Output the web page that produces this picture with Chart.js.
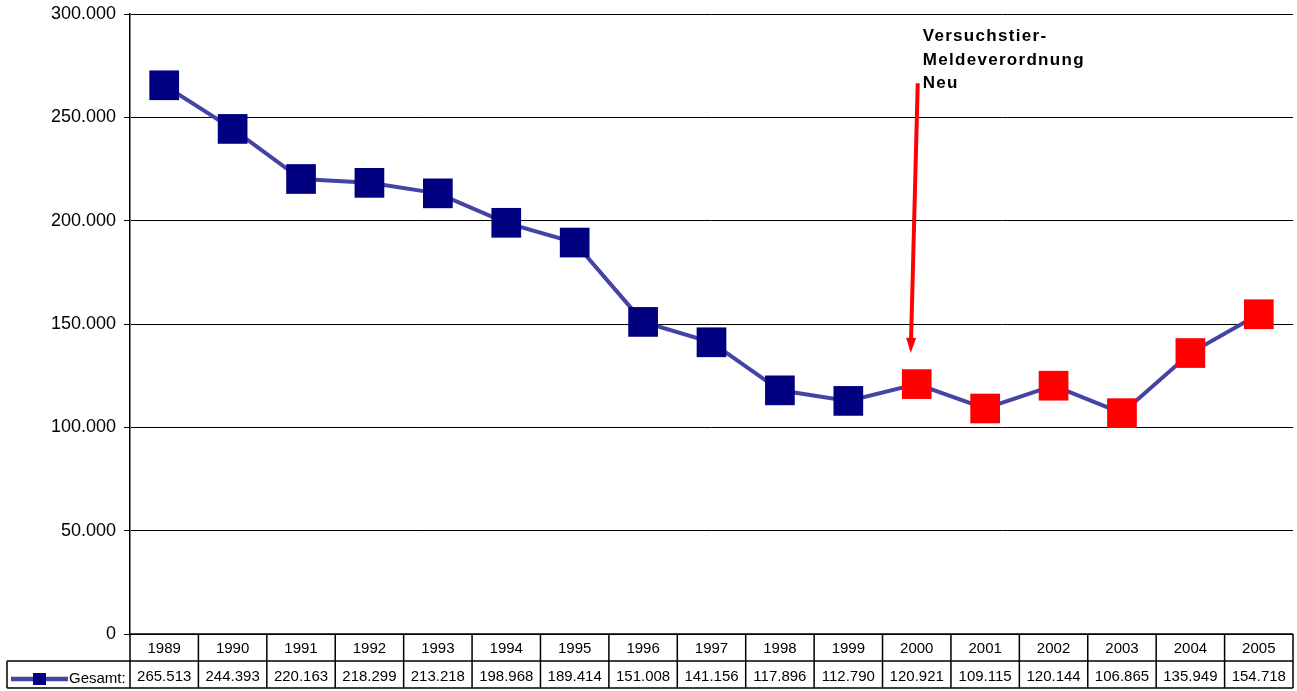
<!DOCTYPE html>
<html>
<head>
<meta charset="utf-8">
<script src="https://cdn.jsdelivr.net/npm/chart.js@4"></script>
<style>
  html, body { margin: 0; padding: 0; background: #fff; }
  canvas { display: block; }
</style>
</head>
<body>
<canvas id="chart" width="1297" height="691"></canvas>
<script>
// data
const years = ["1989", "1990", "1991", "1992", "1993", "1994", "1995", "1996", "1997",
               "1998", "1999", "2000", "2001", "2002", "2003", "2004", "2005"];
const gesamt = [265513, 244393, 220163, 218299, 213218, 198968, 189414, 151008, 141156,
                117896, 112790, 120921, 109115, 120144, 106865, 135949, 154718];
const yTicks = [0, 50000, 100000, 150000, 200000, 250000, 300000];
const seriesName = "Gesamt:";
const noteLines = ["Versuchstier-", "Meldeverordnung", "Neu"];
const noteYear = "2000";

const FONT = "'Liberation Sans', Arial, sans-serif";
const NAVY = "#000080";
const RED = "#ff0000";
const LINE = "#4444a4";

function fmt(v) {
    return String(v).replace(/\B(?=(\d{3})+(?!\d))/g, ".");
}

const pointColors = years.map(y => (+y >= +noteYear ? RED : NAVY));

// data table under the plot + legend key
const tablePlugin = {
    id: "dataTable",
    afterDraw(chart) {
        const ctx = chart.ctx;
        const area = chart.chartArea;
        const xs = chart.scales.x;
        const w = (area.right - area.left) / years.length;
        const rowH = 27;
        const top1 = area.bottom, top2 = area.bottom + rowH, bot = area.bottom + 2 * rowH;
        const legendLeft = 7;

        ctx.save();
        ctx.strokeStyle = "#000";
        ctx.lineWidth = 1.5;
        ctx.beginPath();
        ctx.moveTo(area.left, top1); ctx.lineTo(area.right, top1);
        ctx.moveTo(legendLeft, top2); ctx.lineTo(area.right, top2);
        ctx.moveTo(legendLeft, bot); ctx.lineTo(area.right, bot);
        ctx.moveTo(legendLeft, top2); ctx.lineTo(legendLeft, bot);
        for (let i = 0; i <= years.length; i++) {
            const x = area.left + i * w;
            ctx.moveTo(x, top1); ctx.lineTo(x, bot);
        }
        ctx.stroke();

        ctx.fillStyle = "#000";
        ctx.font = "15px " + FONT;
        ctx.textAlign = "center";
        ctx.textBaseline = "middle";
        years.forEach((y, i) => {
            const cx = xs.getPixelForValue(i);
            ctx.fillText(y, cx, top1 + rowH / 2 + 1.5);
            ctx.fillText(fmt(gesamt[i]), cx, top2 + rowH / 2 + 2.5);
        });

        // legend key
        const ly = top2 + rowH / 2 + 4.5;
        ctx.strokeStyle = LINE;
        ctx.lineWidth = 4.5;
        ctx.beginPath();
        ctx.moveTo(11, ly); ctx.lineTo(68, ly);
        ctx.stroke();
        ctx.fillStyle = NAVY;
        ctx.fillRect(33, ly - 6, 13, 12);
        ctx.fillStyle = "#000";
        ctx.textAlign = "left";
        ctx.font = "15px " + FONT;
        ctx.fillText(seriesName, 69, ly);
        ctx.restore();
    }
};

// red arrow + note
const notePlugin = {
    id: "note",
    afterDatasetsDraw(chart) {
        const ctx = chart.ctx;
        const xs = chart.scales.x, ys = chart.scales.y;
        const idx = years.indexOf(noteYear);
        const px = xs.getPixelForValue(idx);
        const x0 = px + 1, y0 = ys.getPixelForValue(266500);
        const x1 = px - 6, y1 = ys.getPixelForValue(136000);

        ctx.save();
        ctx.strokeStyle = RED;
        ctx.fillStyle = RED;
        ctx.lineWidth = 4;
        const ang = Math.atan2(y1 - y0, x1 - x0);
        const head = 15, half = 5;
        const bx = x1 - head * Math.cos(ang), by = y1 - head * Math.sin(ang);
        ctx.beginPath();
        ctx.moveTo(x0, y0); ctx.lineTo(bx, by);
        ctx.stroke();
        ctx.beginPath();
        ctx.moveTo(x1, y1);
        ctx.lineTo(bx + half * Math.sin(ang), by - half * Math.cos(ang));
        ctx.lineTo(bx - half * Math.sin(ang), by + half * Math.cos(ang));
        ctx.closePath();
        ctx.fill();

        ctx.fillStyle = "#000";
        ctx.font = "bold 17px " + FONT;
        ctx.letterSpacing = "1.3px";
        ctx.textAlign = "left";
        ctx.textBaseline = "middle";
        noteLines.forEach((t, i) => ctx.fillText(t, px + 6, ys.getPixelForValue(289000) + i * 23.5));
        ctx.restore();
    }
};

new Chart(document.getElementById("chart"), {
    type: "line",
    data: {
        labels: years,
        datasets: [{
            label: seriesName,
            data: gesamt,
            borderColor: LINE,
            borderWidth: 4,
            tension: 0,
            pointStyle: "rect",
            pointRadius: 21,
            pointHoverRadius: 21,
            pointBorderWidth: 0,
            pointBackgroundColor: pointColors,
            pointBorderColor: pointColors
        }]
    },
    options: {
        responsive: false,
        animation: false,
        devicePixelRatio: 1,
        layout: { autoPadding: false, padding: { left: 0, top: 14, right: 4, bottom: 57 } },
        plugins: {
            legend: { display: false },
            tooltip: { enabled: false }
        },
        scales: {
            x: {
                type: "category",
                offset: true,
                display: false
            },
            y: {
                min: 0,
                max: 300000,
                afterBuildTicks(scale) {
                    scale.ticks = yTicks.map(v => ({ value: v }));
                },
                afterFit(scale) {
                    scale.width = 130;
                    scale.paddingTop = 0;
                    scale.paddingBottom = 0;
                },
                grid: { color: "#000", lineWidth: 1, tickLength: 6, drawTicks: true },
                border: { color: "#000", width: 1.5 },
                ticks: {
                    padding: 8,
                    color: "#000",
                    font: { family: FONT, size: 18 },
                    callback: v => fmt(v)
                }
            }
        }
    },
    plugins: [tablePlugin, notePlugin]
});
</script>
</body>
</html>
